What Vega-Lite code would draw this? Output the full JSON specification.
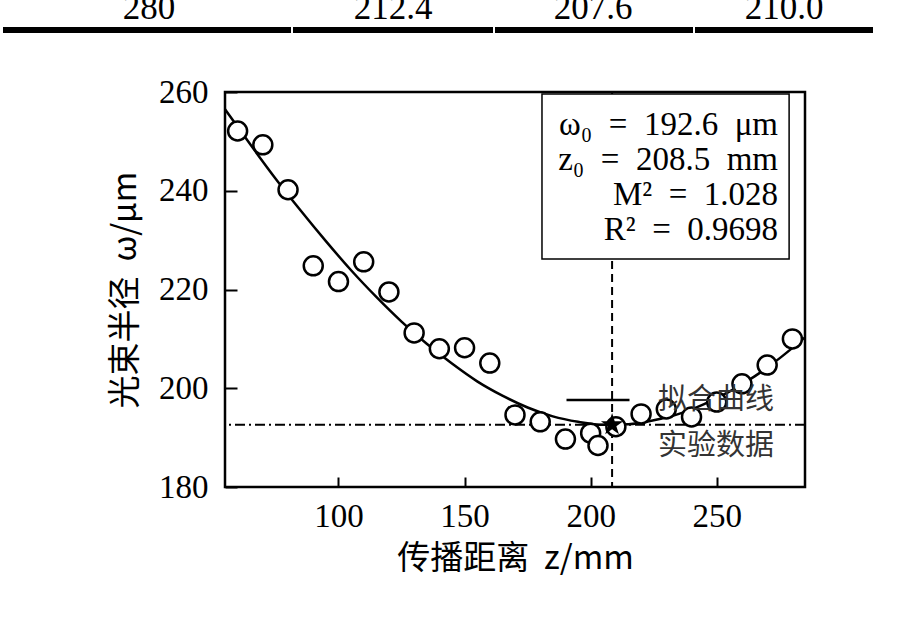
{
  "$schema": "https://vega.github.io/schema/vega-lite/v6.json",
  "width": 580,
  "height": 395,
  "autosize": {"type": "none"},
  "padding": {"left": 225, "top": 92, "right": 115, "bottom": 153},
  "background": "white",
  "config": {
    "font": "Liberation Serif",
    "view": {"stroke": "black", "strokeWidth": 2.5},
    "axisX": {
      "domain": false, "grid": true, "gridColor": "#dcdcdc", "gridWidth": 1.5,
      "tickSize": -10, "tickWidth": 2, "tickColor": "black",
      "labelFont": "Liberation Serif", "labelFontSize": 33, "labelColor": "black", "labelPadding": 23,
      "titleFont": "Noto Sans CJK SC", "titleFontSize": 33, "titleFontWeight": "normal", "titleColor": "black", "titlePadding": 9
    },
    "axisY": {
      "domain": false, "grid": true, "gridColor": "#dcdcdc", "gridWidth": 1.5,
      "tickSize": -12, "tickWidth": 2, "tickColor": "black",
      "labelFont": "Liberation Serif", "labelFontSize": 33, "labelColor": "black", "labelPadding": 29,
      "titleFont": "Noto Sans CJK SC", "titleFontSize": 33, "titleFontWeight": "normal", "titleColor": "black", "titlePadding": 16
    }
  },
  "datasets": {
    "table": [
      {"v": "280", "s": 0, "e": 288, "c": 146},
      {"v": "212.4", "s": 290, "e": 490, "c": 390},
      {"v": "207.6", "s": 492, "e": 690, "c": 590},
      {"v": "210.0", "s": 692, "e": 870, "c": 781}
    ],
    "params": [{"z0": 208.5, "w0": 192.6, "M2": 1.028, "R2": 0.9698}],
    "fit": [
      {"z": 55, "w": 256.5}, {"z": 65, "w": 249.4}, {"z": 75, "w": 242.5}, {"z": 85, "w": 236.0},
      {"z": 95, "w": 229.8}, {"z": 105, "w": 223.9}, {"z": 115, "w": 218.5}, {"z": 125, "w": 213.5},
      {"z": 135, "w": 209.0}, {"z": 145, "w": 205.0}, {"z": 155, "w": 201.4}, {"z": 165, "w": 198.5},
      {"z": 175, "w": 196.1}, {"z": 185, "w": 194.3}, {"z": 195, "w": 193.2}, {"z": 205, "w": 192.6},
      {"z": 215, "w": 192.7}, {"z": 225, "w": 193.5}, {"z": 235, "w": 194.8}, {"z": 245, "w": 196.8},
      {"z": 255, "w": 199.3}, {"z": 265, "w": 202.4}, {"z": 275, "w": 206.1}, {"z": 285, "w": 210.3}
    ],
    "points": [
      {"z": 60, "w": 252.1, "series": "实验数据"}, {"z": 70, "w": 249.3, "series": "实验数据"},
      {"z": 80, "w": 240.2, "series": "实验数据"}, {"z": 90, "w": 224.8, "series": "实验数据"},
      {"z": 100, "w": 221.6, "series": "实验数据"}, {"z": 110, "w": 225.6, "series": "实验数据"},
      {"z": 120, "w": 219.5, "series": "实验数据"}, {"z": 130, "w": 211.2, "series": "实验数据"},
      {"z": 140, "w": 208.0, "series": "实验数据"}, {"z": 150, "w": 208.2, "series": "实验数据"},
      {"z": 160, "w": 205.1, "series": "实验数据"}, {"z": 170, "w": 194.6, "series": "实验数据"},
      {"z": 180, "w": 193.2, "series": "实验数据"}, {"z": 190, "w": 189.7, "series": "实验数据"},
      {"z": 200, "w": 190.9, "series": "实验数据"}, {"z": 210, "w": 192.2, "series": "实验数据"},
      {"z": 220, "w": 194.8, "series": "实验数据"}, {"z": 230, "w": 195.8, "series": "实验数据"},
      {"z": 240, "w": 194.2, "series": "实验数据"}, {"z": 250, "w": 197.2, "series": "实验数据"},
      {"z": 260, "w": 200.9, "series": "实验数据"}, {"z": 270, "w": 204.7, "series": "实验数据"},
      {"z": 280, "w": 210.0, "series": "实验数据"}
    ]
  },
  "layer": [
    {
      "data": {"name": "table"},
      "layer": [
        {
          "mark": {"type": "rule", "strokeWidth": 6, "color": "black", "strokeCap": "butt"},
          "encoding": {
            "x": {"field": "s", "type": "quantitative", "scale": {"domain": [0, 870], "range": [-222, 648]}, "axis": null},
            "x2": {"field": "e"},
            "y": {"datum": 1, "type": "quantitative", "scale": {"domain": [0, 1], "range": [-73, -62]}, "axis": null}
          }
        },
        {
          "mark": {"type": "text", "font": "Liberation Serif", "fontSize": 35, "color": "black", "baseline": "alphabetic", "align": "center"},
          "encoding": {
            "x": {"field": "c", "type": "quantitative", "scale": {"domain": [0, 870], "range": [-222, 648]}, "axis": null},
            "y": {"datum": 0, "type": "quantitative", "scale": {"domain": [0, 1], "range": [-73, -62]}, "axis": null},
            "text": {"field": "v"}
          }
        }
      ]
    },
    {
      "data": {"name": "params"},
      "layer": [
        {
          "mark": {"type": "rule", "color": "black", "strokeWidth": 2, "strokeDash": [8, 5]},
          "encoding": {
            "x": {"field": "z0", "type": "quantitative", "scale": {"domain": [55, 285], "nice": false, "zero": false}}
          }
        },
        {
          "mark": {"type": "rule", "color": "black", "strokeWidth": 2, "strokeDash": [10, 4, 2, 4]},
          "encoding": {
            "y": {"field": "w0", "type": "quantitative", "scale": {"domain": [180, 260], "nice": false, "zero": false}}
          }
        },
        {
          "data": {"name": "fit"},
          "mark": {"type": "line", "color": "black", "strokeWidth": 2.5, "interpolate": "monotone"},
          "encoding": {
            "x": {"field": "z", "type": "quantitative"},
            "y": {"field": "w", "type": "quantitative"}
          }
        },
        {
          "data": {"name": "points"},
          "mark": {"type": "point", "filled": true, "fill": "white", "stroke": "black", "strokeWidth": 2.5, "opacity": 1},
          "encoding": {
            "x": {"field": "z", "type": "quantitative", "title": "传播距离\u00a0\u00a0z/mm", "axis": {"values": [100, 150, 200, 250]}},
            "y": {"field": "w", "type": "quantitative", "title": "光束半径\u00a0\u00a0ω/μm", "axis": {"values": [180, 200, 220, 240, 260]}},
            "shape": {
              "field": "series", "type": "nominal",
              "scale": {"domain": ["拟合曲线", "实验数据"], "range": ["stroke", "circle"]},
              "legend": {
                "orient": "none", "legendX": 340, "legendY": 275, "title": null, "padding": 0,
                "labelFont": "Noto Sans CJK SC", "labelFontSize": 29, "labelColor": "#333333", "labelOffset": 27,
                "symbolStrokeColor": "black", "symbolFillColor": "white", "symbolStrokeWidth": 2.5, "symbolOpacity": 1,
                "rowPadding": 16
              }
            },
            "size": {
              "field": "series", "type": "nominal",
              "scale": {"type": "ordinal", "domain": ["拟合曲线", "实验数据"], "range": [3969, 361]}
            }
          }
        },
        {
          "mark": {"type": "rect", "fill": "white", "stroke": "black", "strokeWidth": 1.5},
          "encoding": {
            "x": {"datum": 180.7, "type": "quantitative"},
            "x2": {"datum": 278.7},
            "y": {"datum": 259.6, "type": "quantitative"},
            "y2": {"datum": 226.2}
          }
        },
        {
          "mark": {"type": "text", "align": "right", "baseline": "middle", "lineHeight": 35, "fontSize": 33, "font": "Liberation Serif", "color": "black"},
          "encoding": {
            "x": {"datum": 274.3, "type": "quantitative"},
            "y": {"datum": 253.3, "type": "quantitative"},
            "text": {"value": ["ω₀\u00a0\u00a0=\u00a0\u00a0192.6\u00a0\u00a0μm", "z₀\u00a0\u00a0=\u00a0\u00a0208.5\u00a0\u00a0mm", "M²\u00a0\u00a0=\u00a0\u00a01.028", "R²\u00a0\u00a0=\u00a0\u00a00.9698"]}
          }
        },
        {
          "mark": {"type": "point", "filled": true, "color": "black", "opacity": 1, "size": 550,
                   "shape": "M0,-1L0.2245,-0.309L0.951,-0.309L0.363,0.118L0.588,0.809L0,0.382L-0.588,0.809L-0.363,0.118L-0.951,-0.309L-0.2245,-0.309Z"},
          "encoding": {
            "x": {"field": "z0", "type": "quantitative"},
            "y": {"field": "w0", "type": "quantitative"}
          }
        }
      ]
    }
  ],
  "resolve": {"scale": {"x": "independent", "y": "independent"}}
}
